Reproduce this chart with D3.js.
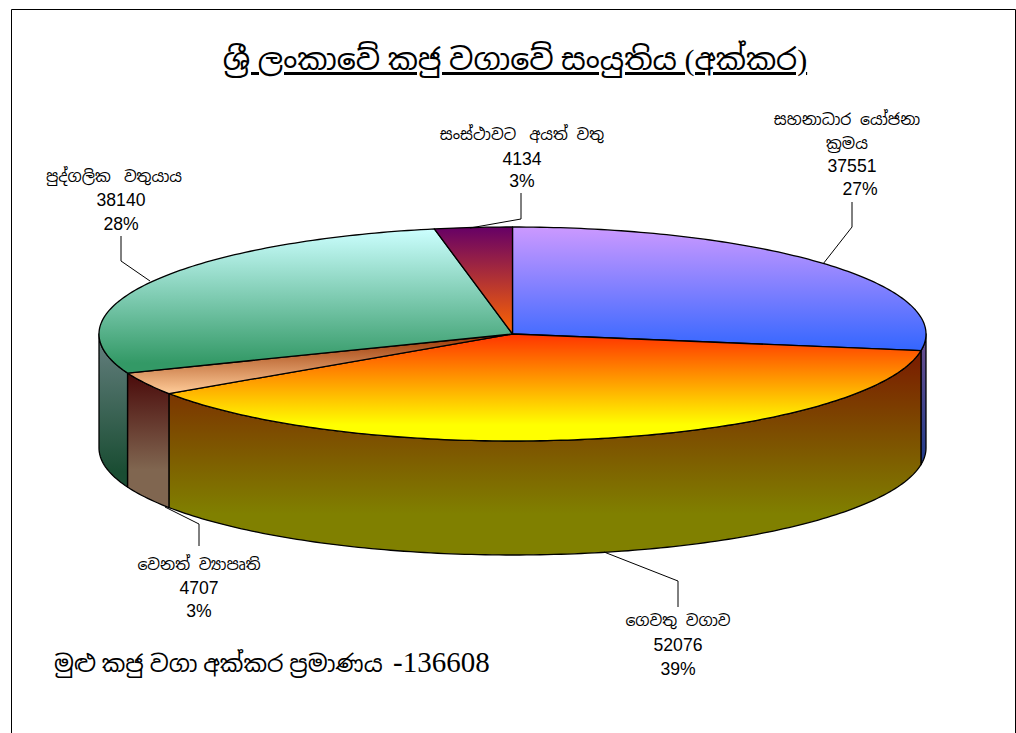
<!DOCTYPE html>
<html>
<head>
<meta charset="utf-8">
<script src="https://cdn.jsdelivr.net/npm/d3@7"></script>
<style>
  body { margin: 0; background: #fff; }
  svg { display: block; }
  text { font-family: "Liberation Sans", Arial, "Noto Sans Sinhala", sans-serif; fill: #000; white-space: pre; }
</style>
</head>
<body>
<div id="chart"></div>
<script>
// values, clockwise from 12 o'clock
const categories = [
  ["සහනාධාර  යෝජනා", "ක්‍රමය"],
  ["ගෙවතු  වගාව"],
  ["වෙනත්  ව්‍යාපෘති"],
  ["පුද්ගලික   වතුයාය"],
  ["සංස්ථාවට   අයත්  වතු"]
]
const acres = [37551, 52076, 4707, 38140, 4134]
const percents = ["27%", "39%", "3%", "28%", "3%"]

const titleText = "ශ්‍රී ලංකාවේ කජු වගාවේ සංයුතිය (අක්කර)"
const totalLabel = "මුළු කජු වගා අක්කර ප්‍රමාණය"
const totalValue = "-136608"

const topColors = [["#cc99ff", "#3366ff"], ["#ff3300", "#ffff00"], ["#993300", "#ffcc99"], ["#ccffff", "#339966"], ["#660066", "#ff6600"]]
const wallColors = [["#6b4f8f", "#1f3a8a"], ["#7a1a00", "#808000"], ["#4a0a0a", "#806650"], ["#668080", "#1a4d33"], ["#330033", "#803300"]]

const width = 1016, height = 733
const depth = 114

const svg = d3.select("#chart").append("svg")
  .attr("width", width)
  .attr("height", height)

// the frame round the chart, runs off the bottom of the window
svg.append("path")
  .attr("d", "M11.5," + height + "V9.5H1015.5V" + height)
  .attr("fill", "none")
  .attr("stroke", "#000")

// the ellipse is a unit circle put through two scales
const xScale = d3.scaleLinear().domain([-1, 1]).range([99, 926])
const yScale = d3.scaleLinear().domain([-1, 1]).range([227, 441])

const slices = d3.pie().sort(null)(acres)

const px = a => xScale(Math.sin(a))
const py = a => yScale(-Math.cos(a))
const line = d3.line()

function arcPoints (a0, a1, dy) {
  const n = Math.max(2, Math.ceil((a1 - a0) * 60))
  return d3.range(n + 1).map(i => {
    const a = a0 + (a1 - a0) * i / n
    return [px(a), py(a) + dy]
  })
}

const defs = svg.append("defs")
function gradient (id, colors, middle) {
  const g = defs.append("linearGradient").attr("id", id)
    .attr("x1", 0).attr("y1", 0).attr("x2", 0).attr("y2", 1)
  g.append("stop").attr("offset", 0).attr("stop-color", colors[0])
  g.append("stop").attr("offset", middle).attr("stop-color", colors[1])
}
const topStops = [1, 0.85, 1, 0.93, 1]
const wallStops = [1, 0.8, 0.72, 0.9, 1]
topColors.forEach((c, i) => gradient("top" + i, c, topStops[i]))
wallColors.forEach((c, i) => gradient("wall" + i, c, wallStops[i]))

// side walls, only the front half of the pie shows
svg.append("g").selectAll("path")
  .data(slices.filter(d => d.endAngle > Math.PI / 2 && d.startAngle < 3 * Math.PI / 2))
  .join("path")
  .attr("d", d => {
    const a0 = Math.max(d.startAngle, Math.PI / 2)
    const a1 = Math.min(d.endAngle, 3 * Math.PI / 2)
    return line(arcPoints(a0, a1, 0).concat(arcPoints(a0, a1, depth).reverse())) + "Z"
  })
  .attr("fill", d => "url(#wall" + d.index + ")")
  .attr("stroke", "#000")
  .attr("stroke-width", 1.3)
  .attr("stroke-linejoin", "round")

// top face
svg.append("g").selectAll("path")
  .data(slices)
  .join("path")
  .attr("d", d => line([[xScale(0), yScale(0)]].concat(arcPoints(d.startAngle, d.endAngle, 0))) + "Z")
  .attr("fill", d => "url(#top" + d.index + ")")
  .attr("stroke", "#000")
  .attr("stroke-width", 1.3)
  .attr("stroke-linejoin", "round")

// leader lines
const leaders = [
  [[823, 264], [852, 227], [852, 202]],
  [[604, 552], [678, 581], [678, 607]],
  [[165, 507], [199, 524], [199, 546]],
  [[150, 281], [121, 261], [121, 236]],
  [[470, 228], [521, 219], [521, 193]]
]
svg.append("g").selectAll("path")
  .data(leaders)
  .join("path")
  .attr("d", d => line(d))
  .attr("fill", "none")
  .attr("stroke", "#000")

// labels: x centre and baselines of the name lines, value and percent
const labelPos = [
  { x: 847, names: [125, 149], value: 172, pct: 195, valueDx: 5, pctDx: 13 },
  { x: 678, names: [626], value: 651, pct: 675, valueDx: 0, pctDx: 0 },
  { x: 199, names: [570], value: 594, pct: 617, valueDx: 0, pctDx: 0 },
  { x: 114, names: [182], value: 206, pct: 230, valueDx: 7, pctDx: 7 },
  { x: 522, names: [140], value: 165, pct: 187, valueDx: 0, pctDx: 0 }
]
labelPos.forEach((p, i) => {
  const g = svg.append("g").attr("text-anchor", "middle")
  categories[i].forEach((name, k) => {
    g.append("text").attr("x", p.x).attr("y", p.names[k])
      .style("font-size", "15.7px").text(name)
  })
  g.append("text").attr("x", p.x + p.valueDx).attr("y", p.value).style("font-size", "17.6px").text(acres[i])
  g.append("text").attr("x", p.x + p.pctDx).attr("y", p.pct).style("font-size", "17.6px").text(percents[i])
})

svg.append("text")
  .attr("x", 515).attr("y", 70)
  .attr("text-anchor", "middle")
  .style("font-family", '"Liberation Serif", "Noto Sans Sinhala", serif')
  .style("font-size", "30px")
  .style("text-decoration", "underline")
  .style("text-decoration-skip-ink", "none")
  .text(titleText)

svg.append("text")
  .attr("x", 54).attr("y", 672)
  .style("font-family", '"Liberation Serif", "Noto Sans Sinhala", serif')
  .style("font-size", "23.4px")
  .text(totalLabel)

svg.append("text")
  .attr("x", 393).attr("y", 672)
  .style("font-family", '"Liberation Serif", serif')
  .style("font-size", "29px")
  .text(totalValue)
</script>
</body>
</html>
